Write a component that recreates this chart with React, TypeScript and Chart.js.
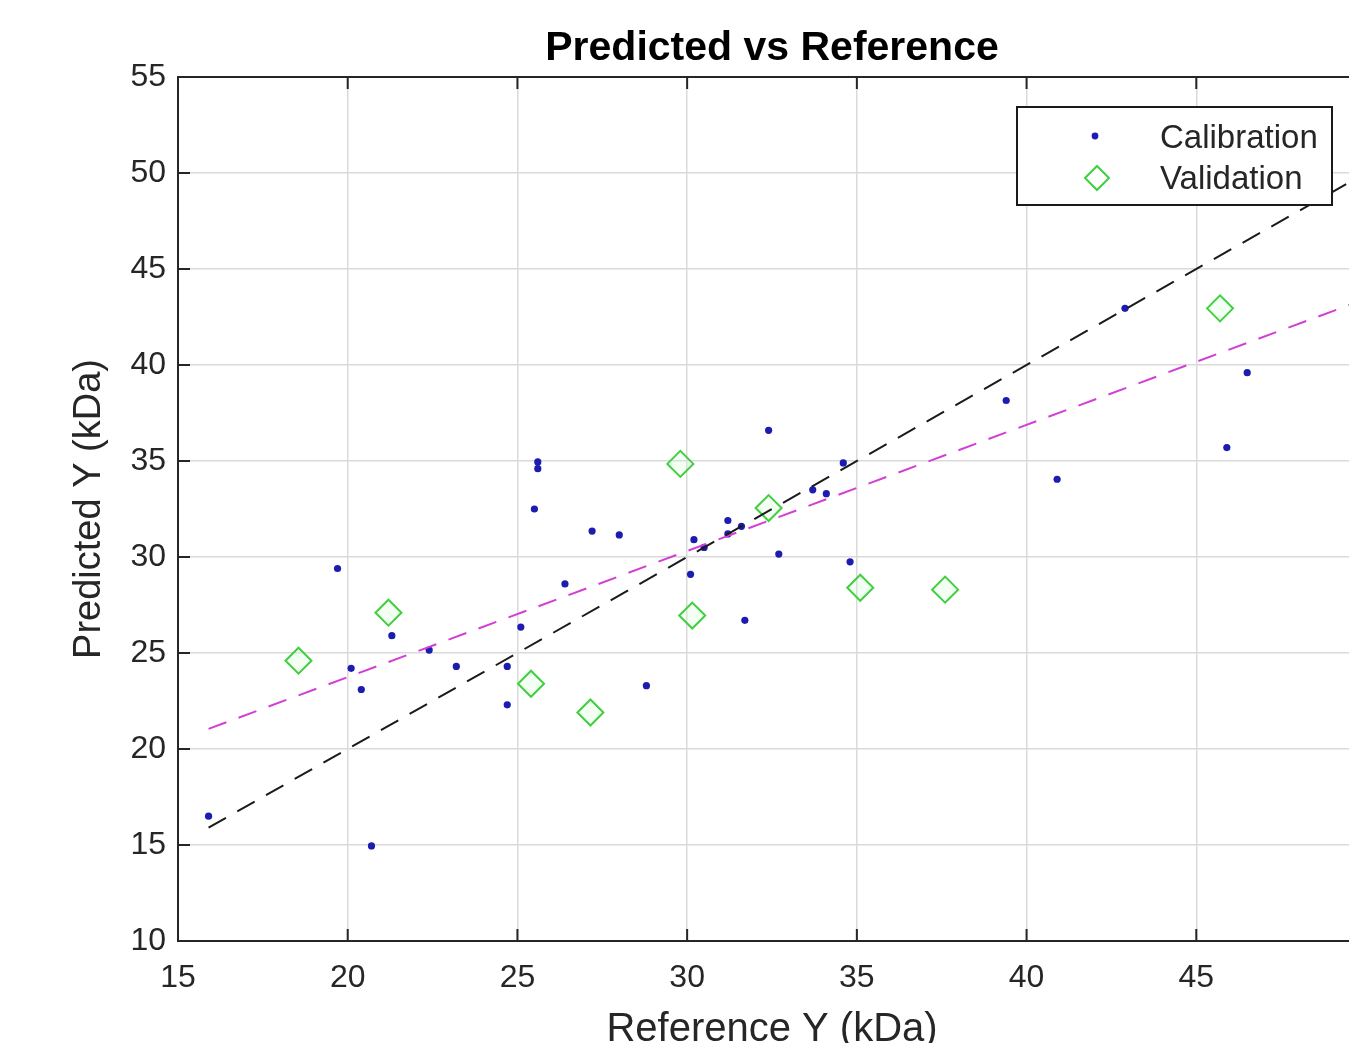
import React, { useEffect, useRef } from "react";
import { Chart, registerables } from "chart.js";

Chart.register(...registerables);

const FONT = '"Liberation Sans", Arial, Helvetica, sans-serif';

// Calibration samples (Reference Y, Predicted Y)
const calibrationX = [15.9, 19.7, 20.1, 20.4, 20.7, 21.3, 22.4, 23.2, 24.7, 24.7, 25.1, 25.5, 25.6, 25.6, 26.4, 27.2, 28.0, 28.8, 30.1, 30.2, 30.5, 31.2, 31.2, 31.6, 31.7, 32.4, 32.7, 33.7, 34.1, 34.6, 34.8, 39.4, 40.9, 42.9, 45.9, 46.5];
const calibrationY = [16.5, 29.4, 24.2, 23.1, 14.95, 25.9, 25.15, 24.3, 22.3, 24.3, 26.35, 32.5, 34.95, 34.6, 28.6, 31.35, 31.15, 23.3, 29.1, 30.9, 30.5, 31.9, 31.2, 31.6, 26.7, 36.6, 30.15, 33.5, 33.3, 34.9, 29.75, 38.15, 34.05, 42.95, 35.7, 39.6];

// Validation samples
const validationX = [18.55, 21.2, 25.4, 27.15, 29.8, 30.15, 32.4, 35.1, 37.6, 45.7, 49.95];
const validationY = [24.6, 27.1, 23.4, 21.9, 34.85, 26.95, 32.55, 28.4, 28.3, 42.95, 37.0];

// Reference lines
const identityX = [15.9, 50];
const identityY = [15.9, 50];
const fitX = [15.9, 50];
const fitY = [21.05, 43.45];

const xTicks = [15, 20, 25, 30, 35, 40, 45, 50];
const yTicks = [10, 15, 20, 25, 30, 35, 40, 45, 50, 55];

const seriesLabels = ["Calibration", "Validation"];

const toPoints = (xs: number[], ys: number[]) => xs.map((x, i) => ({ x, y: ys[i] }));

const framePlugin = {
  id: "matlabFrame",
  beforeDatasetsDraw(chart: any) {
    const { ctx, chartArea, scales } = chart;
    const { left, top, right, bottom } = chartArea;
    ctx.save();
    ctx.strokeStyle = "#262626";
    ctx.lineWidth = 2;
    ctx.strokeRect(left, top, right - left, bottom - top);
    const L = 12;
    ctx.beginPath();
    scales.x.ticks.forEach((t: any) => {
      const px = scales.x.getPixelForValue(t.value);
      ctx.moveTo(px, bottom);
      ctx.lineTo(px, bottom - L);
      ctx.moveTo(px, top);
      ctx.lineTo(px, top + L);
    });
    scales.y.ticks.forEach((t: any) => {
      const py = scales.y.getPixelForValue(t.value);
      ctx.moveTo(left, py);
      ctx.lineTo(left + L, py);
      ctx.moveTo(right, py);
      ctx.lineTo(right - L, py);
    });
    ctx.stroke();
    ctx.restore();
  },
};

const legendPlugin = {
  id: "boxLegend",
  afterDraw(chart: any) {
    const { ctx } = chart;
    const ds = chart.data.datasets;
    ctx.save();
    const bx = 1017, by = 107, bw = 315, bh = 98;
    ctx.fillStyle = "#ffffff";
    ctx.fillRect(bx, by, bw, bh);
    ctx.strokeStyle = "#1a1a1a";
    ctx.lineWidth = 2;
    ctx.strokeRect(bx, by, bw, bh);
    ctx.font = `33px ${FONT}`;
    ctx.textBaseline = "middle";
    ctx.textAlign = "left";
    // calibration marker
    ctx.fillStyle = ds[0].backgroundColor;
    ctx.beginPath();
    ctx.arc(1095, 136, 3.4, 0, Math.PI * 2);
    ctx.fill();
    // validation marker
    ctx.strokeStyle = ds[1].borderColor;
    ctx.lineWidth = 2;
    ctx.beginPath();
    const r = 12;
    ctx.moveTo(1097 - r, 178);
    ctx.lineTo(1097, 178 - r);
    ctx.lineTo(1097 + r, 178);
    ctx.lineTo(1097, 178 + r);
    ctx.closePath();
    ctx.stroke();
    ctx.fillStyle = "#262626";
    ctx.fillText(ds[0].label, 1160, 139);
    ctx.fillText(ds[1].label, 1160, 180);
    ctx.restore();
  },
};

export default function App() {
  const ref = useRef<HTMLCanvasElement | null>(null);

  useEffect(() => {
    if (!ref.current) return;
    const chart = new Chart(ref.current, {
      type: "scatter",
      data: {
        datasets: [
          {
            label: seriesLabels[0],
            data: toPoints(calibrationX, calibrationY),
            backgroundColor: "#1c1cb0",
            borderColor: "#1c1cb0",
            pointRadius: 3.6,
            pointBorderWidth: 0,
            pointStyle: "circle",
            order: 2,
          },
          {
            label: seriesLabels[1],
            data: toPoints(validationX, validationY),
            backgroundColor: "rgba(210,255,210,0.25)",
            borderColor: "#3fcf3f",
            pointRadius: 13,
            pointBorderWidth: 2,
            pointStyle: "rectRot",
            order: 3,
          },
          {
            label: "Fit",
            data: toPoints(fitX, fitY),
            showLine: true,
            borderColor: "#d23fd2",
            borderWidth: 2,
            borderDash: [19, 13],
            pointRadius: 0,
            order: 1,
          },
          {
            label: "1:1",
            data: toPoints(identityX, identityY),
            showLine: true,
            borderColor: "#1a1a1a",
            borderWidth: 2,
            borderDash: [20, 13],
            pointRadius: 0,
            order: 0,
          },
        ],
      } as any,
      options: {
        responsive: false,
        animation: false,
        devicePixelRatio: 1,
        layout: { padding: { left: 0, top: 0, right: 134, bottom: 0 } },
        plugins: {
          legend: { display: false },
          tooltip: { enabled: false },
          title: {
            display: true,
            text: "Predicted vs Reference",
            fullSize: false,
            color: "#000000",
            font: { family: FONT, size: 41, weight: "bold", lineHeight: 1 },
            padding: { top: 28, bottom: 8 },
          },
        },
        scales: {
          x: {
            type: "linear",
            min: 15,
            max: 50,
            afterBuildTicks: (s: any) => {
              s.ticks = xTicks.map((v) => ({ value: v }));
            },
            afterFit: (s: any) => {
              s.height = 159;
            },
            grid: { color: "#dadada", lineWidth: 1.5, drawTicks: false },
            border: { display: false },
            ticks: {
              color: "#262626",
              font: { family: FONT, size: 32 },
              padding: 18,
              maxRotation: 0,
              autoSkip: false,
            },
            title: {
              display: true,
              text: "Reference Y (kDa)",
              color: "#262626",
              font: { family: FONT, size: 40, lineHeight: 1 },
              padding: { top: 0, bottom: 50 },
            },
          },
          y: {
            type: "linear",
            min: 10,
            max: 55,
            afterBuildTicks: (s: any) => {
              s.ticks = yTicks.map((v) => ({ value: v }));
            },
            afterFit: (s: any) => {
              s.width = 178;
            },
            grid: { color: "#dadada", lineWidth: 1.5, drawTicks: false },
            border: { display: false },
            ticks: {
              color: "#262626",
              font: { family: FONT, size: 32 },
              padding: 12,
              autoSkip: false,
            },
            title: {
              display: true,
              text: "Predicted Y (kDa)",
              color: "#262626",
              font: { family: FONT, size: 38, lineHeight: 1 },
              padding: { top: 71, bottom: 0 },
            },
          },
        },
      } as any,
      plugins: [framePlugin, legendPlugin],
    });
    return () => chart.destroy();
  }, []);

  return (
    <div
      style={{
        position: "fixed",
        left: 0,
        top: 0,
        width: 1349,
        height: 1043,
        overflow: "hidden",
        background: "#ffffff",
      }}
    >
      <canvas ref={ref} width={1500} height={1100} style={{ display: "block" }} />
    </div>
  );
}
